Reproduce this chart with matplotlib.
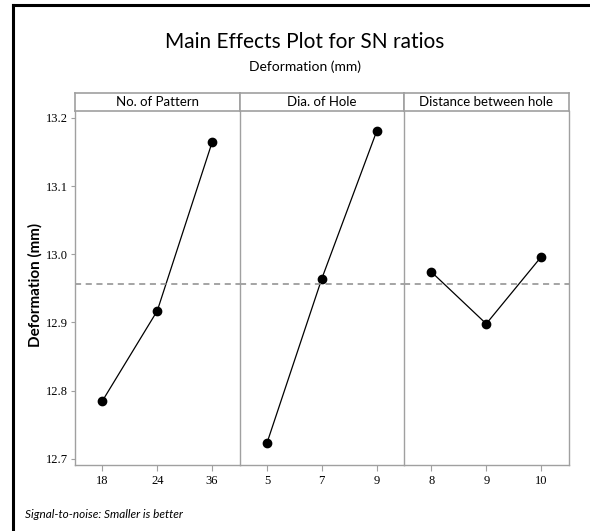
import matplotlib
matplotlib.use("Agg")
import matplotlib.pyplot as plt
from matplotlib.lines import Line2D

# factors and their levels
factors = ["No. of Pattern", "Dia. of Hole", "Distance between hole"]
levels = [["18", "24", "36"], ["5", "7", "9"], ["8", "9", "10"]]
pattern_sn = [12.785, 12.917, 13.164]
hole_sn = [12.723, 12.964, 13.180]
distance_sn = [12.974, 12.898, 12.996]
series = [pattern_sn, hole_sn, distance_sn]
overall_mean = 12.956
yticks = [12.7, 12.8, 12.9, 13.0, 13.1, 13.2]

W, H = 590, 531
fig = plt.figure(figsize=(W / 100, H / 100), dpi=100)
fig.patch.set_facecolor("white")
plt.rcParams["font.family"] = ["Lato", "DejaVu Sans"]

def fx(px):
    return px / W

def fy(py):
    return 1 - py / H

# outer frame (left and top only)
fig.add_artist(Line2D([fx(13), fx(13)], [0, fy(5)], color="black", lw=2.2))
fig.add_artist(Line2D([fx(13), 1], [fy(5), fy(5)], color="black", lw=2.2))

fig.text(fx(305), fy(42), "Main Effects Plot for SN ratios", ha="center", va="center",
         fontsize=15)
fig.text(fx(305), fy(67), "Deformation (mm)", ha="center", va="center", fontsize=10)

edge = "#a0a0a0"
x0, pw = 75, 164.5
top, bot, head = 111, 465, 93
for i, (name, labs, vals) in enumerate(zip(factors, levels, series)):
    left = x0 + i * pw
    ax = fig.add_axes([fx(left), fy(bot), fx(pw), (bot - top) / H])
    ax.plot(range(1, 4), vals, color="black", lw=0.9, marker="o", ms=6,
            markerfacecolor="black", markeredgecolor="black")
    ax.axhline(overall_mean, color="#8c8c8c", lw=1.1, ls=(0, (4, 3)))
    ax.set_xlim(0.5, 3.5)
    ax.set_ylim(12.691, 13.21)
    ax.set_xticks(range(1, 4))
    ax.set_xticklabels(labs, fontsize=9, family=["Liberation Serif"])
    for s in ax.spines.values():
        s.set_color(edge)
        s.set_linewidth(1.0)
    ax.spines["top"].set_visible(False)
    if i < 2:
        ax.spines["right"].set_visible(False)
    ax.tick_params(axis="x", length=4, color=edge, pad=3)
    if i == 0:
        ax.set_yticks(yticks)
        ax.set_yticklabels([f"{v:.1f}" for v in yticks], fontsize=9,
                           family=["Liberation Serif"])
        ax.tick_params(axis="y", length=3, color=edge, pad=2)
    else:
        ax.set_yticks([])

    hax = fig.add_axes([fx(left), fy(top), fx(pw), (top - head) / H])
    hax.set_xticks([])
    hax.set_yticks([])
    for s in hax.spines.values():
        s.set_color(edge)
        s.set_linewidth(1.2)
    hax.text(0.5, 0.5, name, ha="center", va="center", fontsize=9.5,
             transform=hax.transAxes)

fig.text(fx(35), fy(285), "Deformation (mm)", rotation=90, ha="center", va="center",
         fontsize=11, fontweight="bold")
fig.text(fx(25), fy(514), "Signal-to-noise: Smaller is better", ha="left", va="center",
         fontsize=8.5, style="italic")

fig.savefig("out.png", dpi=100, facecolor=fig.get_facecolor())
plt.close(fig)
